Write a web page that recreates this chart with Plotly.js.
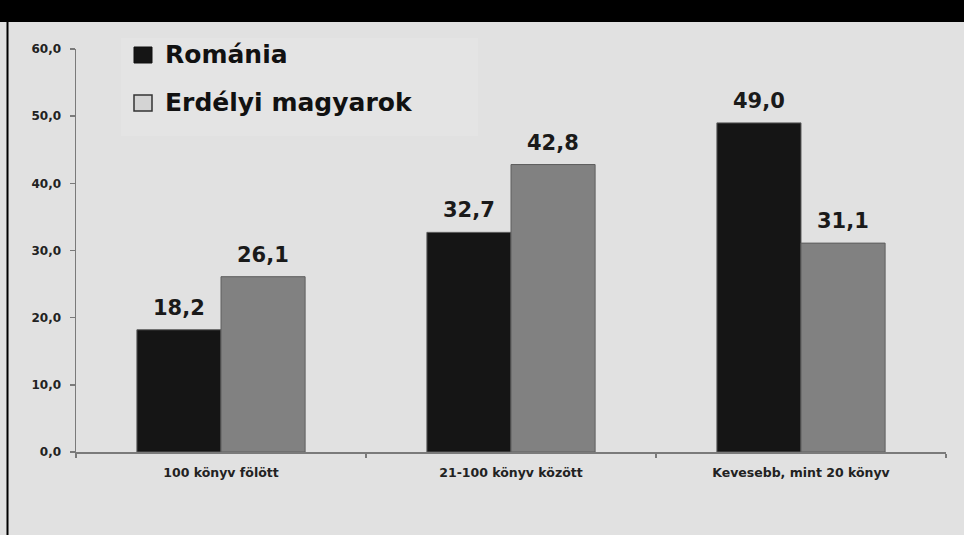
<!DOCTYPE html>
<html>
<head>
<meta charset="utf-8">
<script src="https://cdn.plot.ly/plotly-3.0.1.min.js"></script>
<style>
  html, body { margin: 0; padding: 0; background: #e1e1e1; }
  #chart { width: 964px; height: 535px; }
</style>
</head>
<body>
<div id="chart"></div>
<script>
// ---- data ----
const categories = ["100 könyv fölött", "21-100 könyv között", "Kevesebb, mint 20 könyv"];
const seriesNames = ["Románia", "Erdélyi magyarok"];
const romaniaValues = [18.2, 32.7, 49.0];
const erdelyiValues = [26.1, 42.8, 31.1];
const yTickValues = [0, 10, 20, 30, 40, 50, 60];

// ---- styles ----
const barColors = ["#151515", "#818181"];
const legendSwatch = ["#151515", "#d4d4d4"];
const fontFamily = "DejaVu Sans, Verdana, sans-serif";

// plot area in pixels (for paper-coordinate decorations)
const L = 76, R = 946, T = 49, B = 452;
const px = x => (x - L) / (R - L);
const py = y => (B - y) / (B - T);

const allValues = [romaniaValues, erdelyiValues];

const traces = allValues.map((vals, i) => ({
  type: "bar",
  name: seriesNames[i],
  x: categories,
  y: vals,
  marker: { color: barColors[i], line: { color: "#5e5e5e", width: 1 } },
  hoverinfo: "x+y+name",
  showlegend: false
}));

const annotations = [];
// value labels above bars
const barOffset = 41.8;
allValues.forEach((vals, i) => {
  vals.forEach((v, j) => {
    annotations.push({
      x: categories[j], xref: "x",
      y: v, yref: "y",
      xshift: (i === 0 ? -1 : 1) * barOffset,
      yshift: 8,
      yanchor: "bottom", xanchor: "center",
      showarrow: false,
      text: v.toFixed(1).replace(".", ","),
      font: { family: fontFamily, size: 21, color: "#1a1a1a", weight: "bold" }
    });
  });
});
// manual legend texts
const legendRowsY = [54, 102];
seriesNames.forEach((n, i) => {
  annotations.push({
    xref: "paper", yref: "paper",
    x: px(163), y: py(legendRowsY[i]),
    xanchor: "left", yanchor: "middle",
    showarrow: false,
    text: n,
    font: { family: fontFamily, size: 25, color: "#111", weight: "bold" }
  });
});

const shapes = [
  // top black band
  { type: "rect", xref: "paper", yref: "paper", x0: px(-5), x1: px(970), y0: py(22), y1: py(-5),
    fillcolor: "#000", line: { width: 0 }, layer: "above" },
  // left black border line
  { type: "line", xref: "paper", yref: "paper", x0: px(7.5), x1: px(7.5), y0: py(22), y1: py(540),
    line: { color: "#000", width: 2 } },
  // subtle legend box
  { type: "rect", xref: "paper", yref: "paper", x0: px(121), x1: px(478), y0: py(136), y1: py(38),
    fillcolor: "#e4e4e4", line: { width: 0 }, layer: "below" },
  // legend swatches
  { type: "rect", xref: "paper", yref: "paper", x0: px(134), x1: px(152), y0: py(63), y1: py(47),
    fillcolor: legendSwatch[0], line: { color: "#111", width: 1 } },
  { type: "rect", xref: "paper", yref: "paper", x0: px(134), x1: px(152), y0: py(111), y1: py(95),
    fillcolor: legendSwatch[1], line: { color: "#333", width: 1.5 } }
];

const layout = {
  width: 964, height: 535,
  paper_bgcolor: "#e1e1e1",
  plot_bgcolor: "rgba(0,0,0,0)",
  margin: { l: L, r: 964 - R, t: T, b: 535 - B, pad: 0 },
  barmode: "group",
  bargap: 0.42,
  bargroupgap: 0,
  separators: ", ",
  showlegend: false,
  font: { family: fontFamily, color: "#222" },
  xaxis: {
    type: "category",
    showline: true, linecolor: "#7a7a7a", linewidth: 1.5,
    ticks: "outside", tickson: "boundaries", ticklen: 4, tickcolor: "#7a7a7a", tickwidth: 1.5,
    ticklabelstandoff: 8,
    tickfont: { family: fontFamily, size: 12.5, color: "#222", weight: "bold" },
    showgrid: false, zeroline: false, fixedrange: true
  },
  yaxis: {
    range: [0, 60],
    tickvals: yTickValues,
    tickformat: ".1f",
    showline: true, linecolor: "#7a7a7a", linewidth: 1.5,
    ticks: "outside", ticklen: 5, tickcolor: "#7a7a7a", tickwidth: 1.5,
    ticklabelstandoff: 6,
    tickfont: { family: fontFamily, size: 12, color: "#222", weight: "bold" },
    showgrid: false, zeroline: false, fixedrange: true
  },
  annotations: annotations,
  shapes: shapes
};

Plotly.newPlot("chart", traces, layout, { displayModeBar: false, staticPlot: true });
</script>
</body>
</html>
